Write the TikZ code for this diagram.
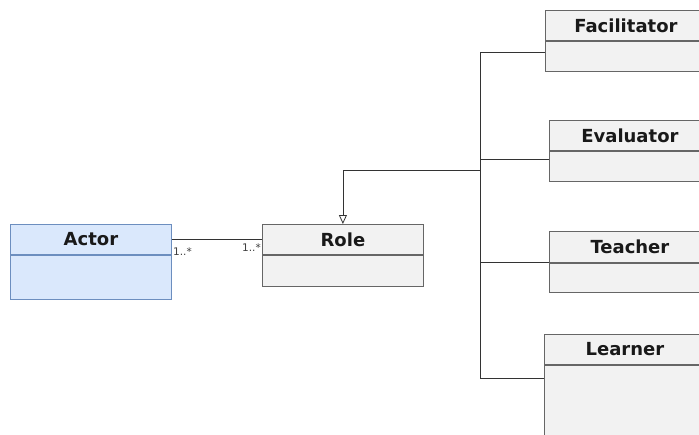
\documentclass[tikz,border=0pt]{standalone}
\usepackage{fontspec}
\setmainfont{DejaVu Sans}
\usetikzlibrary{arrows.meta}
\definecolor{bluefill}{RGB}{218,232,252}
\definecolor{blueline}{RGB}{108,142,191}
\tikzset{
  hdr/.style={draw=black!60, fill=black!5, line width=0.8pt, anchor=north west, minimum width=161pt, minimum height=30pt, inner sep=0pt, font=\fontsize{18}{20}\selectfont\bfseries, text=black!90},
  bdy/.style={draw=black!60, fill=black!5, line width=0.8pt, anchor=north west, minimum width=161pt, inner sep=0pt},
  bluehdr/.style={hdr, draw=blueline, fill=bluefill},
  bluebdy/.style={bdy, draw=blueline, fill=bluefill},
  conn/.style={draw=black!80, line width=0.8pt},
  mult/.style={font=\fontsize{10.5}{11}\selectfont, text=black!75, inner sep=0pt}
}
\begin{document}
\begin{tikzpicture}[x=1pt,y=-1pt]
\useasboundingbox (0,0) rectangle (699,434);
\clip (0,0) rectangle (699,434);
% Actor
\node[bluehdr] (actor) at (10,224) {Actor};
\node[bluebdy, minimum height=44pt] (actorbody) at (actor.south west) {};
% Role
\node[hdr] (role) at (262,224) {Role};
\node[bdy, minimum height=31pt] (rolebody) at (role.south west) {};
% Facilitator
\node[hdr] (fac) at (545,10) {Facilitator};
\node[bdy, minimum height=30pt] (facbody) at (fac.south west) {};
% Evaluator
\node[hdr] (eval) at (549,120) {Evaluator};
\node[bdy, minimum height=30pt] (evalbody) at (eval.south west) {};
% Teacher
\node[hdr, minimum height=31pt] (teach) at (549,231) {Teacher};
\node[bdy, minimum height=29pt] (teachbody) at (teach.south west) {};
% Learner
\node[hdr] (learn) at (544,334) {Learner};
\node[bdy, minimum height=110pt] (learnbody) at (learn.south west) {};
% association
\draw[conn] (actor.east) -- (role.west);
\node[mult, anchor=west] (m1) at (173,252) {1..*};
\node[mult, anchor=east] (m2) at (261,248) {1..*};
% generalization tree
\coordinate (ttop) at (480,52);
\coordinate (tbot) at (480,378);
\coordinate (teval) at (480,159);
\coordinate (tteach) at (480,262);
\coordinate (tgen) at (480,170);
\draw[conn] (ttop) -- (tbot);
\draw[conn] (ttop) -- (ttop -| facbody.west);
\draw[conn] (teval) -- (teval -| evalbody.west);
\draw[conn] (tteach) -- (tteach -| teachbody.west);
\draw[conn] (tbot) -- (tbot -| learnbody.west);
\draw[conn, -{Triangle[open, length=9pt, width=8pt, fill=white]}] (tgen) -| (role.north);
\end{tikzpicture}
\end{document}
